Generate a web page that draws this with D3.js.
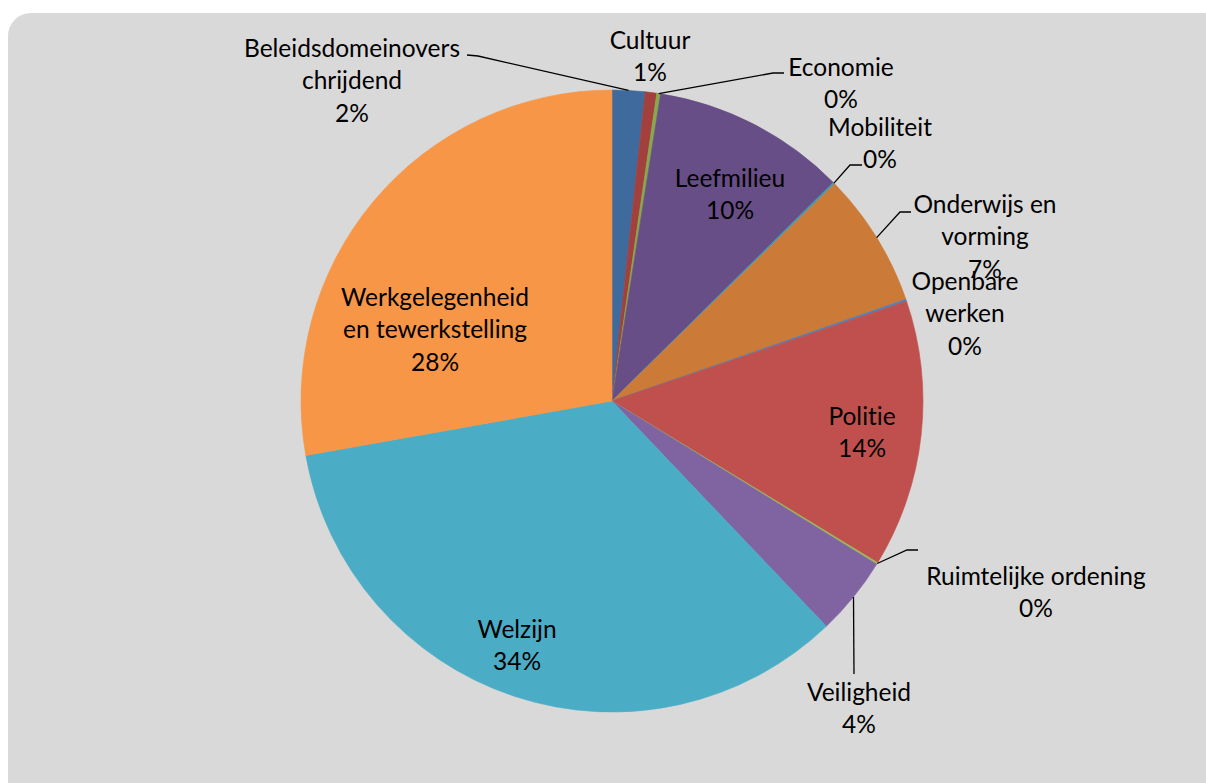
<!DOCTYPE html>
<html>
<head>
<meta charset="utf-8">
<script src="https://cdn.jsdelivr.net/npm/d3@7"></script>
<style>
  html, body { margin: 0; padding: 0; background: #ffffff; }
  svg { display: block; }
  .lbl { font-family: Lato, "Noto Sans", sans-serif; font-size: 24.5px; fill: #000; font-variant-ligatures: none; }
  .leader { fill: none; stroke: #000; stroke-width: 1.3px; }
</style>
</head>
<body>
<div id="chart"></div>
<script>
'use strict';

// domains, clockwise from 12 o'clock
var categories = ["Beleidsdomeinoverschrijdend", "Cultuur", "Economie", "Leefmilieu", "Mobiliteit",
    "Onderwijs en vorming", "Openbare werken", "Politie", "Ruimtelijke ordening", "Veiligheid",
    "Welzijn", "Werkgelegenheid en tewerkstelling"];
var shares = [1.7, 0.6, 0.2, 10.1, 0.1, 7.0, 0.1, 13.9, 0.1, 4.1, 34.3, 27.8];
// how Excel wrapped the category names
var labelLines = [["Beleidsdomeinovers", "chrijdend"], ["Cultuur"], ["Economie"], ["Leefmilieu"], ["Mobiliteit"],
    ["Onderwijs en", "vorming"], ["Openbare", "werken"], ["Politie"], ["Ruimtelijke ordening"], ["Veiligheid"],
    ["Welzijn"], ["Werkgelegenheid", "en tewerkstelling"]];
var colors = ["#3F6A9E", "#A2403D", "#86A94B", "#684E86", "#3A9CB5", "#CB7A37",
    "#4F81BD", "#C0504D", "#9BBB59", "#8064A2", "#4BACC6", "#F79646"];

var width = 1206, height = 783;
var cx = 612, cy = 401, radius = 311;
var lineH = 32.5;

// label placement (centre of first line) and leader elbow, set by hand like in the sheet
var labelPos = {
    "Beleidsdomeinoverschrijdend": {x: 352, y: 48, elbow: [478, 56], end: [467, 55]},
    "Cultuur": {x: 650, y: 40},
    "Economie": {x: 841, y: 67, elbow: [773, 73], end: [784, 73]},
    "Leefmilieu": {x: 730, y: 178},
    "Mobiliteit": {x: 880, y: 127, elbow: [850, 165], end: [862, 165]},
    "Onderwijs en vorming": {x: 985, y: 204, elbow: [900, 212], end: [911, 212]},
    "Openbare werken": {x: 965, y: 281},
    "Politie": {x: 862, y: 416},
    "Ruimtelijke ordening": {x: 1036, y: 576, elbow: [907, 550], end: [918, 550]},
    "Veiligheid": {x: 859, y: 692, elbow: null, end: [854, 674]},
    "Welzijn": {x: 517, y: 629},
    "Werkgelegenheid en tewerkstelling": {x: 435, y: 297}
};

var data = categories.map(function(c, i) {
    return {name: c, value: shares[i], lines: labelLines[i], color: colors[i]};
});
var total = d3.sum(shares);

var svg = d3.select("#chart").append("svg")
    .attr("width", width)
    .attr("height", height);

// grey chart area with rounded corner, runs off the right and bottom
svg.append("rect")
    .attr("x", 8).attr("y", 13)
    .attr("width", width + 40).attr("height", height + 40)
    .attr("rx", 23).attr("ry", 23)
    .attr("fill", "#D9D9D9");

var pie = d3.pie().sort(null).value(function(d) { return d.value; });
var arc = d3.arc().innerRadius(0).outerRadius(radius);
var arcs = pie(data);

var g = svg.append("g").attr("transform", "translate(" + cx + "," + cy + ")");

g.selectAll("path.slice")
    .data(arcs)
    .enter()
    .append("path")
    .attr("class", "slice")
    .attr("d", arc)
    .attr("fill", function(d) { return d.data.color; })
    .attr("stroke", function(d) { return d.data.color; })
    .attr("stroke-width", 0.6);

// leader lines start on the rim at the slice's mid angle
arcs.forEach(function(a) {
    var p = labelPos[a.data.name];
    if (!p || !p.end) return;
    var mid = (a.startAngle + a.endAngle) / 2;
    var start = [cx + radius * Math.sin(mid), cy - radius * Math.cos(mid)];
    var pts = [start];
    if (p.elbow) pts.push(p.elbow);
    pts.push(p.end);
    svg.append("path")
        .attr("class", "leader")
        .attr("d", d3.line()(pts));
});

// labels
arcs.forEach(function(a) {
    var p = labelPos[a.data.name];
    var pct = Math.round(a.data.value / total * 100) + "%";
    var lines = a.data.lines.concat([pct]);
    var t = svg.append("text")
        .attr("class", "lbl")
        .attr("text-anchor", "middle");
    lines.forEach(function(s, i) {
        t.append("tspan")
            .attr("x", p.x)
            .attr("y", p.y + i * lineH)
            .attr("dy", "0.35em")
            .text(s);
    });
});
</script>
</body>
</html>
